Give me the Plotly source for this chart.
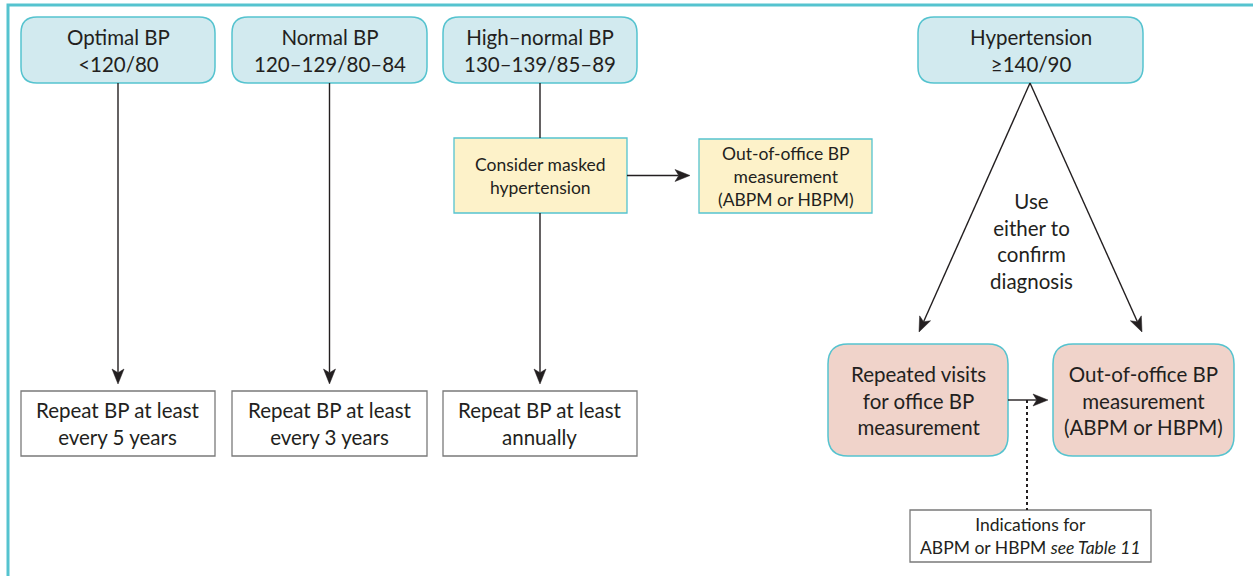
import plotly.graph_objects as go
import math

# ---- content ----
top_labels = ["Optimal BP<br><120/80", "Normal BP<br>120–129/80–84",
              "High–normal BP<br>130–139/85–89", "Hypertension<br>≥140/90"]
repeat_labels = ["Repeat BP at least<br>every 5 years", "Repeat BP at least<br>every 3 years",
                 "Repeat BP at least<br>annually"]
masked_labels = ["Consider masked<br>hypertension", "Out-of-office BP<br>measurement<br>(ABPM or HBPM)"]
confirm_labels = ["Repeated visits<br>for office BP<br>measurement",
                  "Out-of-office BP<br>measurement<br>(ABPM or HBPM)"]
middle_text = "Use<br>either to<br>confirm<br>diagnosis"
note_text = "Indications for<br>ABPM or HBPM <i>see Table 11</i>"

# ---- layout geometry (pixels) ----
W, H = 1253, 576
TEAL = "#55c3cf"
BLUE_FILL = "#d2eaef"
YELLOW_FILL = "#fdf2c9"
PINK_FILL = "#f0d3ca"
GREY = "#7a7a7a"
INK = "#231f20"
FONT = "Lato"
BIG = 20.5
MID = 17.5

top_boxes = [(21, 17, 215, 83), (232, 17, 427, 83), (443, 17, 637, 83), (918, 17, 1143, 83)]
repeat_boxes = [(21, 391, 215, 456), (232, 391, 427, 456), (443, 391, 637, 456)]
masked_boxes = [(454, 138, 627, 213), (699, 139, 872, 213)]
confirm_boxes = [(828, 344, 1008, 456), (1053, 344, 1234, 456)]
note_box = (910, 510, 1151, 562)

shapes = []
annotations = []


def rounded(x0, y0, x1, y1, r, fill, line):
    p = (f"M{x0+r},{y0} L{x1-r},{y0} Q{x1},{y0} {x1},{y0+r} L{x1},{y1-r} Q{x1},{y1} {x1-r},{y1} "
         f"L{x0+r},{y1} Q{x0},{y1} {x0},{y1-r} L{x0},{y0+r} Q{x0},{y0} {x0+r},{y0} Z")
    shapes.append(dict(type="path", path=p, xref="x", yref="y", fillcolor=fill,
                       line=dict(color=line, width=1.5), layer="below"))


def rect(x0, y0, x1, y1, fill, line, w=1.3):
    shapes.append(dict(type="rect", x0=x0, y0=y0, x1=x1, y1=y1, xref="x", yref="y",
                       fillcolor=fill, line=dict(color=line, width=w), layer="below"))


def label(box, text, size, dy=0):
    x0, y0, x1, y1 = box
    annotations.append(dict(x=(x0 + x1) / 2, y=(y0 + y1) / 2 + dy, xref="x", yref="y", text=text,
                            showarrow=False, font=dict(family=FONT, size=size, color=INK),
                            align="center", xanchor="center", yanchor="middle"))


def line(x0, y0, x1, y1, dash=None, w=1.4):
    d = dict(color=INK, width=w)
    if dash:
        d["dash"] = dash
    shapes.append(dict(type="line", x0=x0, y0=y0, x1=x1, y1=y1, xref="x", yref="y", line=d))


def arrow(x0, y0, x1, y1, L=15, hw=6):
    ang = math.atan2(y1 - y0, x1 - x0)
    ux, uy = math.cos(ang), math.sin(ang)
    px, py = -uy, ux
    bx, by = x1 - ux * L, y1 - uy * L
    nx, ny = x1 - ux * L * 0.75, y1 - uy * L * 0.75
    line(x0, y0, nx, ny)
    p = (f"M{x1},{y1} L{bx+px*hw},{by+py*hw} L{nx},{ny} L{bx-px*hw},{by-py*hw} Z")
    shapes.append(dict(type="path", path=p, xref="x", yref="y", fillcolor=INK,
                       line=dict(color=INK, width=0.5)))


# outer border
shapes.append(dict(type="path", path=f"M8,{H+10} L8,5 L{W+10},5", xref="x", yref="y",
                   line=dict(color=TEAL, width=3)))

for b, t in zip(top_boxes, top_labels):
    rounded(*b, 16, BLUE_FILL, TEAL)
    label(b, t, BIG)
for b, t in zip(repeat_boxes, repeat_labels):
    rect(*b, "white", GREY)
    label(b, t, BIG)
for b, t in zip(masked_boxes, masked_labels):
    rect(*b, YELLOW_FILL, TEAL)
    label(b, t, MID)
for b, t in zip(confirm_boxes, confirm_labels):
    rounded(*b, 20, PINK_FILL, TEAL)
    label(b, t, BIG)
rect(*note_box, "white", GREY)
label(note_box, note_text, MID)

# connectors
for i in range(2):
    cx = (top_boxes[i][0] + top_boxes[i][2]) / 2
    arrow(cx, top_boxes[i][3], cx, repeat_boxes[i][1] - 7)
cx = (top_boxes[2][0] + top_boxes[2][2]) / 2
line(cx, top_boxes[2][3], cx, masked_boxes[0][1])
arrow(cx, masked_boxes[0][3], cx, repeat_boxes[2][1] - 7)
my = (masked_boxes[0][1] + masked_boxes[0][3]) / 2
arrow(masked_boxes[0][2], my, masked_boxes[1][0] - 9, my)

apex = (1030, top_boxes[3][3])
arrow(*apex, 919, 332)
arrow(*apex, 1142, 332)
annotations.append(dict(x=1031, y=241, xref="x", yref="y", text=middle_text, showarrow=False,
                        font=dict(family=FONT, size=BIG, color=INK), align="center",
                        xanchor="center", yanchor="middle"))

cy = 400
arrow(confirm_boxes[0][2], cy, confirm_boxes[1][0] - 5, cy)
line(1027, cy, 1027, note_box[1], dash="dot", w=2)

fig = go.Figure()
fig.update_layout(
    width=W, height=H, margin=dict(l=0, r=0, t=0, b=0),
    paper_bgcolor="white", plot_bgcolor="white",
    xaxis=dict(range=[0, W], visible=False, fixedrange=True),
    yaxis=dict(range=[H, 0], visible=False, fixedrange=True),
    shapes=shapes, annotations=annotations, showlegend=False,
)
fig.write_html("out.html", config={"displayModeBar": False},
               post_script="document.body.style.margin='0';document.body.style.overflow='hidden';")
